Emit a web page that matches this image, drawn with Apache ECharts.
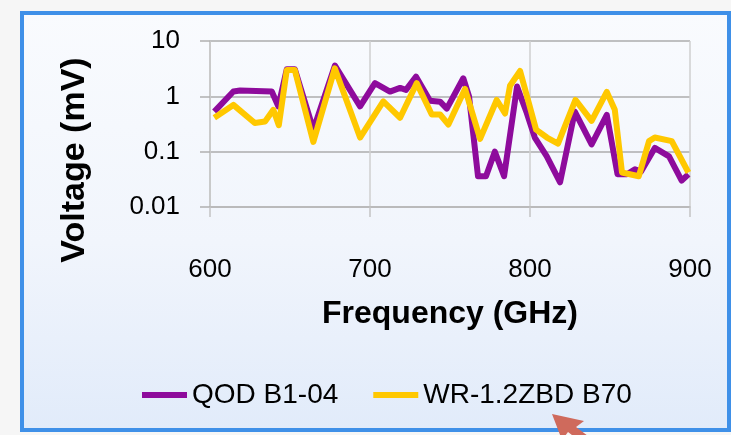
<!DOCTYPE html>
<html>
<head>
<meta charset="utf-8">
<script src="https://cdn.jsdelivr.net/npm/echarts@6/dist/echarts.min.js"></script>
<style>
html,body{margin:0;padding:0;background:#f6f6f6;}
#chart{width:731px;height:435px;}
</style>
</head>
<body>
<div id="chart"></div>
<script>
// Data
const seriesNames = ['QOD B1-04', 'WR-1.2ZBD B70'];
const xTicks = [600, 700, 800, 900];
const yTicks = [0.01, 0.1, 1, 10];

const qodFreq = [602.7, 614.6, 618.8, 638.6, 642.7, 648, 653, 664.6, 678.1, 693.8, 703.1, 712.5, 718.8, 722.5, 728.8, 737.5, 743.8, 748, 758.3, 761.9, 767.5, 772.5, 778, 783.8, 791.9, 798, 803, 810.4, 818.8, 828, 838.5, 848, 854.7, 860.6, 865.6, 869.4, 878, 886.9, 894.8, 899];
const qodVolt = [0.53, 1.22, 1.27, 1.22, 0.66, 3.1, 3.1, 0.25, 3.6, 0.66, 1.73, 1.22, 1.42, 1.31, 2.27, 0.83, 0.8, 0.6, 2.12, 1.0, 0.036, 0.036, 0.1, 0.036, 1.5, 0.5, 0.18, 0.083, 0.028, 0.53, 0.135, 0.46, 0.039, 0.039, 0.048, 0.044, 0.117, 0.082, 0.03, 0.039];

const wrFreq = [602.7, 614.6, 628, 634.4, 639.6, 643, 648, 653, 664.6, 678, 693.8, 708.3, 718.8, 729.2, 738.6, 743.8, 749, 759.4, 768.8, 779.2, 784.4, 787.5, 793.8, 803.8, 810.6, 817.5, 828.4, 838.5, 848, 853, 857.5, 868, 874.4, 878, 888.6, 899];
const wrVolt = [0.41, 0.7, 0.33, 0.35, 0.57, 0.3, 3.0, 3.0, 0.15, 3.2, 0.18, 0.81, 0.41, 1.73, 0.47, 0.47, 0.31, 1.36, 0.17, 0.86, 0.49, 1.55, 2.87, 0.25, 0.18, 0.14, 0.86, 0.36, 1.2, 0.57, 0.042, 0.036, 0.155, 0.18, 0.155, 0.042];

const xName = 'Frequency (GHz)';
const yName = 'Voltage (mV)';

function pairs(xs, ys){ return xs.map((x,i)=>[x, ys[i]]); }

const chart = echarts.init(document.getElementById('chart'), null, {renderer:'canvas'});
const FONT = 'Liberation Sans';
chart.setOption({
  backgroundColor: '#f6f6f6',
  animation: false,
  graphic: [
    {
      type: 'rect', z: -10, silent: true,
      shape: {x: 22, y: 13, width: 707, height: 417},
      style: {
        fill: new echarts.graphic.LinearGradient(0, 0, 0, 1, [
          {offset: 0, color: '#f9fbfe'},
          {offset: 0.55, color: '#f1f5fc'},
          {offset: 1, color: '#e1ebfa'}
        ]),
        stroke: '#3f90e8', lineWidth: 4
      }
    },
    {
      type: 'text', silent: true,
      x: 75, y: 160, rotation: Math.PI / 2,
      style: {
        text: yName, fill: '#000', align: 'center', verticalAlign: 'middle',
        font: 'bold 34px "' + FONT + '"'
      }
    },
    {
      type: 'polygon', silent: true, z: 10,
      shape: {points: [[552,414],[584,421],[576,427],[600,445],[585,445],[568,432],[562,440]]},
      style: {fill: '#cf6a5c'}
    }
  ],
  grid: {left: 210, right: 41, top: 41, height: 166, containLabel: false},
  legend: {
    data: seriesNames,
    left: 137, top: 376,
    icon: 'rect', itemWidth: 45, itemHeight: 6, itemGap: 35,
    textStyle: {fontFamily: FONT, fontSize: 28, color: '#000'}
  },
  xAxis: {
    type: 'value', min: xTicks[0], max: xTicks[xTicks.length-1], interval: 100,
    name: xName, nameLocation: 'middle', nameGap: 91,
    nameTextStyle: {fontFamily: FONT, fontSize: 32, fontWeight: 'bold', color: '#000'},
    axisLine: {show: true, lineStyle: {color: '#b9b9b9', width: 1.5}},
    axisTick: {show: true, length: 10, inside: false, lineStyle: {color: '#c4c4c4', width: 1.5}},
    axisLabel: {margin: 50, fontFamily: FONT, fontSize: 26, color: '#000'},
    splitLine: {show: true, lineStyle: {color: '#cfcfcf', width: 1.5}}
  },
  yAxis: {
    type: 'log', logBase: 10, min: yTicks[0], max: yTicks[yTicks.length-1],
    axisLine: {show: true, lineStyle: {color: '#c4c4c4', width: 1.5}},
    axisTick: {show: true, length: 10, lineStyle: {color: '#b0b0b0', width: 1.5}},
    axisLabel: {margin: 30, fontFamily: FONT, fontSize: 26, color: '#000',
      formatter: v => String(+v.toPrecision(3))},
    splitLine: {show: true, lineStyle: {color: '#adadad', width: 1.5}},
    minorTick: {show: false}
  },
  series: [
    {
      name: seriesNames[0], type: 'line', data: pairs(qodFreq, qodVolt),
      symbol: 'none', lineStyle: {color: '#8e0b9c', width: 6, join: 'round'},
      itemStyle: {color: '#8e0b9c'}
    },
    {
      name: seriesNames[1], type: 'line', data: pairs(wrFreq, wrVolt),
      symbol: 'none', lineStyle: {color: '#ffc800', width: 6, join: 'round'},
      itemStyle: {color: '#ffc800'}
    }
  ]
});
</script>
</body>
</html>
